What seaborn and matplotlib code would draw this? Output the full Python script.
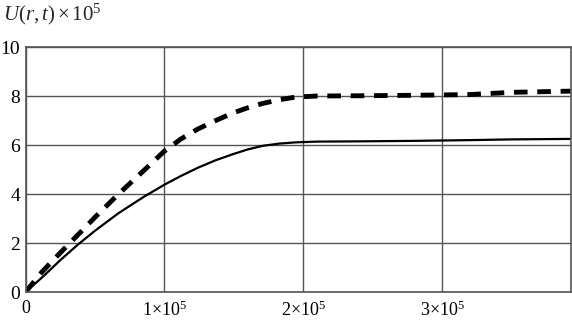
import numpy as np
import pandas as pd
import matplotlib
matplotlib.use("Agg")
import matplotlib.pyplot as plt
import seaborn as sns

# time values and the two curves
t = [0, 0.12e5, 0.25e5, 0.38e5, 0.5e5, 0.67e5, 0.85e5, 1.0e5, 1.12e5, 1.24e5,
     1.37e5, 1.49e5, 1.6e5, 1.71e5, 1.83e5, 1.95e5, 2.1e5, 2.4e5, 2.8e5,
     3.2e5, 3.5e5, 3.93e5]
u_dashed = [0, 0.83, 1.6, 2.35, 3.05, 4.0, 4.95, 5.75, 6.25, 6.65,
            7.0, 7.3, 7.52, 7.7, 7.85, 7.96, 8.0, 8.01, 8.03,
            8.06, 8.15, 8.2]
u_solid = [0, 0.6, 1.3, 1.95, 2.5, 3.22, 3.88, 4.38, 4.74, 5.07,
           5.38, 5.62, 5.82, 5.97, 6.06, 6.11, 6.14, 6.15, 6.17,
           6.2, 6.23, 6.25]

x_ticks = [0, 1e5, 2e5, 3e5]
x_labels = ["0", r"1$\times$10$^{5}$", r"2$\times$10$^{5}$", r"3$\times$10$^{5}$"]
y_ticks = [0, 2, 4, 6, 8, 10]

sns.set_style("white")
plt.rcParams["font.family"] = ["Liberation Serif", "DejaVu Serif"]
plt.rcParams["mathtext.fontset"] = "custom"
plt.rcParams["mathtext.rm"] = "Liberation Serif"
plt.rcParams["mathtext.it"] = "Liberation Serif:italic"

df = pd.DataFrame({"t": t, "dashed": u_dashed, "solid": u_solid})

fig = plt.figure(figsize=(5.72, 3.22), dpi=100)
ax = fig.add_axes([0.0446, 0.093, 0.954, 0.761])

sns.lineplot(data=df, x="t", y="solid", ax=ax, color="black", linewidth=1.6)
sns.lineplot(data=df, x="t", y="dashed", ax=ax, color="black", linewidth=3.5,
             dashes=False, linestyle=(0, (2.8, 2.0)))

ax.set_xlim(0, 3.93e5)
ax.set_ylim(0, 10)
ax.set_xticks(x_ticks)
ax.set_xticklabels(x_labels)
ax.set_yticks(y_ticks)
ax.grid(True, color="#555555", linewidth=1.0)
ax.set_axisbelow(True)
for s in ax.spines.values():
    s.set_color("#555555")
    s.set_linewidth(1.2)
ax.tick_params(axis="both", length=0, labelsize=14, colors="black")
ax.tick_params(axis="x", labelsize=13, pad=6)
ax.tick_params(axis="y", pad=4)
ax.set_xlabel("")
ax.set_ylabel("")

fig.text(0.005, 0.955, r"$U(r,t)\times$10$^{5}$", fontsize=15, ha="left", va="center")

fig.savefig("out.png", dpi=100)
